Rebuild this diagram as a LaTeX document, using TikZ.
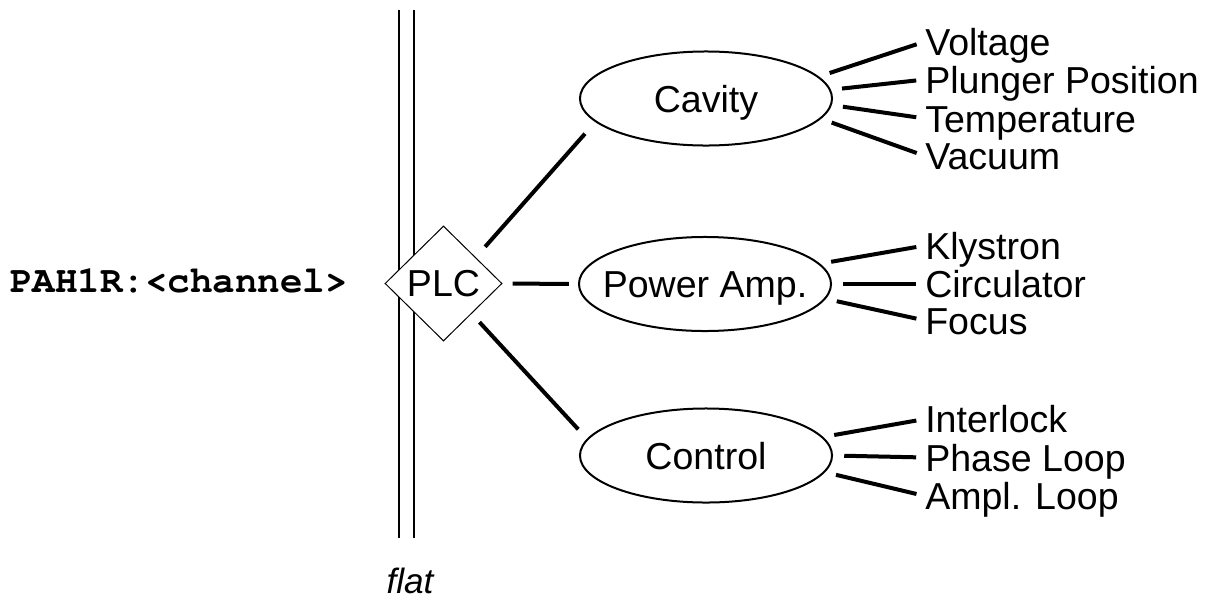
\documentclass[tikz,border=0pt]{standalone}
\usepackage{fontspec}
\setmainfont{Liberation Sans}
\newfontfamily\codefont{texgyrecursor-bold.otf}
\usetikzlibrary{shapes.geometric}

\begin{document}
\begin{tikzpicture}[x=0.025cm, y=-0.025cm,
    every node/.style={font=\fontsize{26.7}{32}\selectfont},
    unit/.style={ellipse, draw, line width=0.05cm, minimum width=6.3cm, minimum height=2.35cm, inner xsep=-0.35cm, inner ysep=0pt, text height=0.675cm, text depth=0pt},
    item/.style={anchor=west, inner sep=0pt, text height=0.675cm, text depth=0pt},
    link/.style={line width=0.1cm},
    fan/.style={link, shorten <=0.28cm, shorten >=0.22cm}]
    \useasboundingbox (0,0) rectangle (1216,599);

    % Draw bus
    \draw[line width=0.05cm] (399,10) -- (399,538);
    \draw[line width=0.05cm] (414,10) -- (414,538);

    % Draw nodes
    \node[diamond, draw, fill=white, line width=0.025cm, minimum width=2.925cm, minimum height=2.875cm, inner sep=0pt] (plc) at (443.5,283.5) {PLC};
    \node[unit] (cavity) at (706,98.5) {Cavity};
    \node[unit] (power) at (705,284) {Power Amp.};
    \node[unit] (control) at (706,455.5) {Control};

    % Labels
    \node[font=\fontsize{26.7}{32}\codefont] (channel) at (179,281) {PAH1R:<channel>};
    \node[font=\fontsize{25}{30}\selectfont\itshape, inner sep=0pt] (flat) at (410,581) {flat};
    \node[item] (voltage) at (925,41.5) {Voltage};
    \node[item] (plunger) at (925,79.5) {Plunger Position};
    \node[item] (temperature) at (925,118.5) {Temperature};
    \node[item] (vacuum) at (925,156) {Vacuum};
    \node[item] (klystron) at (925,245.5) {Klystron};
    \node[item] (circulator) at (925,284) {Circulator};
    \node[item] (focus) at (925,320.5) {Focus};
    \node[item] (interlock) at (925,419) {Interlock};
    \node[item] (phase) at (925,457.5) {Phase Loop};
    \node[item] (ampl) at (925,496) {Ampl. Loop};

    % Draw connections
    \draw[link, shorten <=0.35cm, shorten >=0.39cm] (plc.39) -- (cavity.192);
    \draw[link, shorten <=0.25cm, shorten >=0.225cm] (plc.east) -- (power.west);
    \draw[link, shorten <=0.285cm, shorten >=0.32cm] (plc.313) -- (control.172);

    \draw[fan] (cavity.11) -- (voltage.west);
    \draw[fan] (cavity.4) -- (plunger.west);
    \draw[fan] (cavity.357) -- (temperature.west);
    \draw[fan] (cavity.350) -- (vacuum.west);
    \draw[fan] (power.10) -- (klystron.west);
    \draw[fan] (power.east) -- (circulator.west);
    \draw[fan] (power.353) -- (focus.west);
    \draw[fan] (control.9) -- (interlock.west);
    \draw[fan] (control.east) -- (phase.west);
    \draw[fan] (control.352) -- (ampl.west);
\end{tikzpicture}
\end{document}
